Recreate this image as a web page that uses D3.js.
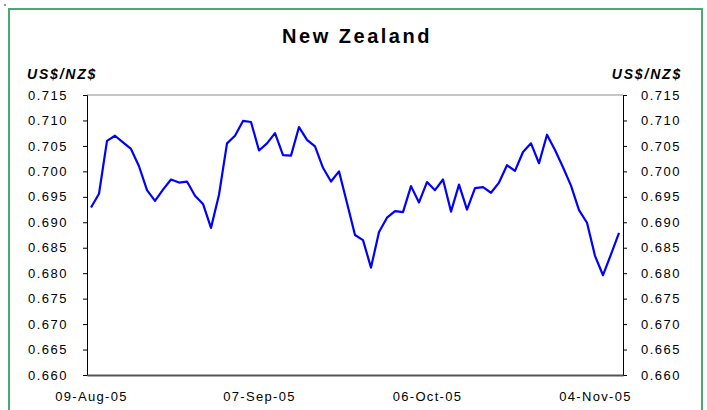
<!DOCTYPE html>
<html>
<head>
<meta charset="utf-8">
<script src="https://cdn.jsdelivr.net/npm/d3@7"></script>
<style>
  body { margin: 0; background: #fff; }
  text { font-family: "Liberation Sans", Arial, sans-serif; }
</style>
</head>
<body>
<svg></svg>
<script>
// NZD rates, one per business day from 09-Aug-05
let rates = [
  0.6929, 0.6956, 0.7060, 0.7070, 0.7057, 0.7044, 0.7010, 0.6963, 0.6942, 0.6964,
  0.6984, 0.6978, 0.6980, 0.6952, 0.6936, 0.6889, 0.6954, 0.7055, 0.7070, 0.7099,
  0.7097, 0.7041, 0.7055, 0.7075, 0.7032, 0.7031, 0.7087, 0.7062, 0.7049, 0.7007,
  0.6980, 0.7000, 0.6938, 0.6875, 0.6865, 0.6811, 0.6881, 0.6909, 0.6922, 0.6920,
  0.6971, 0.6939, 0.6979, 0.6963, 0.6984, 0.6921, 0.6974, 0.6925, 0.6967, 0.6969,
  0.6958, 0.6978, 0.7012, 0.7001, 0.7038, 0.7055, 0.7016, 0.7072, 0.7042, 0.7008,
  0.6972, 0.6924, 0.6899, 0.6834, 0.6796, 0.6837, 0.6879
];
let xTickLabels = ['09-Aug-05', '07-Sep-05', '06-Oct-05', '04-Nov-05'];
let yTicks = d3.range(0.660, 0.7151, 0.005);

// business-day categories
let fmt = d3.timeFormat('%d-%b-%y');
let days = [];
let day = new Date(2005, 7, 9);
while (days.length < rates.length) {
  if (day.getDay() !== 0 && day.getDay() !== 6) days.push(fmt(day));
  day = d3.timeDay.offset(day, 1);
}

let width  = 707,
    height = 410;
let plotLeft = 87, plotRight = 623, plotTop = 95, plotBottom = 375;
let font = '"Liberation Sans", Arial, sans-serif';

let svg = d3.select('svg')
    .attr('width', width)
    .attr('height', height);

// green frame
svg.append('rect')
    .attr('x', 9).attr('y', 9)
    .attr('width', 693).attr('height', 420)
    .attr('fill', 'none')
    .attr('stroke', '#4ca872')
    .attr('stroke-width', 2);

svg.append('rect')
    .attr('x', 4).attr('y', 4).attr('width', 2).attr('height', 2)
    .attr('fill', '#999');

let xScale = d3.scalePoint()
    .domain(days)
    .range([plotLeft, plotRight])
    .padding(0.5);

let yScale = d3.scaleLinear()
    .domain([0.660, 0.715])
    .range([plotBottom, plotTop]);

// top border of plot area
svg.append('line')
    .attr('x1', plotLeft).attr('x2', plotRight)
    .attr('y1', plotTop).attr('y2', plotTop)
    .attr('stroke', '#8c8c8c');

let yLeft = d3.axisLeft(yScale).tickValues(yTicks).tickFormat(d3.format('.3f')).tickSize(4).tickPadding(15),
    yRight = d3.axisRight(yScale).tickValues(yTicks).tickFormat(d3.format('.3f')).tickSize(4).tickPadding(14);

[[yLeft, plotLeft], [yRight, plotRight]].forEach(([ax, x]) => {
  let g = svg.append('g')
      .attr('transform', `translate(${x}, 0)`)
      .call(ax);
  g.select('.domain').attr('stroke', '#000');
  g.selectAll('.tick line').attr('stroke', '#000');
  g.selectAll('text').attr('font-size', 13).attr('fill', '#000')
      .attr('letter-spacing', 1.5)
      .attr('font-family', font);
});

// bottom axis
let xAxis = d3.axisBottom(xScale)
    .tickValues(xTickLabels)
    .tickSize(0)
    .tickPadding(17);
let gx = svg.append('g')
    .attr('transform', `translate(0, ${plotBottom})`)
    .call(xAxis);
gx.select('.domain').attr('stroke', '#555').attr('stroke-width', 2);
gx.selectAll('text').attr('font-size', 13).attr('fill', '#000')
    .attr('letter-spacing', 1.3)
    .attr('font-family', font);

// line
let line = d3.line()
    .x((v, i) => xScale(days[i]))
    .y(v => yScale(v));

svg.append('path')
    .datum(rates)
    .attr('d', line)
    .attr('fill', 'none')
    .attr('stroke', '#0000ff')
    .attr('stroke-width', 2.2)
    .attr('stroke-linejoin', 'round');

// title and labels
svg.append('text')
    .attr('x', 357)
    .attr('y', 43)
    .attr('font-size', 20)
    .attr('font-weight', 'bold')
    .attr('letter-spacing', 2.5)
    .style('text-anchor', 'middle')
    .text('New Zealand');

svg.append('text')
    .attr('x', 27)
    .attr('y', 79)
    .attr('font-size', 14)
    .attr('font-weight', 'bold')
    .attr('font-style', 'italic')
    .attr('letter-spacing', 1.8)
    .text('US$/NZ$');

svg.append('text')
    .attr('x', 682)
    .attr('y', 79)
    .attr('font-size', 14)
    .attr('font-weight', 'bold')
    .attr('font-style', 'italic')
    .attr('letter-spacing', 1.8)
    .style('text-anchor', 'end')
    .text('US$/NZ$');
</script>
</body>
</html>
